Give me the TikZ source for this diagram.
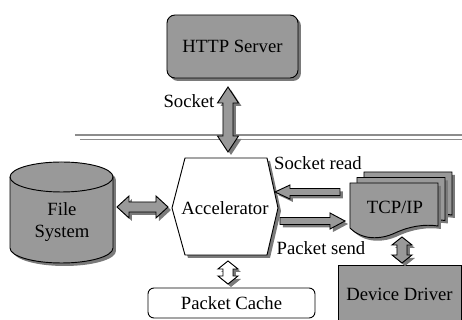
\documentclass[tikz,border=0pt]{standalone}
\usepackage{fontspec}
\setmainfont{Liberation Serif}
\usetikzlibrary{calc,shadows}

\definecolor{boxgray}{HTML}{999999}
\definecolor{shadegray}{HTML}{7A7A7A}
\definecolor{rulegray}{HTML}{8C8C8C}

\tikzset{
  lbl/.style={font=\fontsize{14}{16.5}\selectfont, inner sep=0pt, align=center},
  grayfill/.style={fill=boxgray, draw=black, line width=0.7pt},
  whitefill/.style={fill=white, draw=black, line width=0.7pt},
  shadowcopy/.style={fill=shadegray, draw=none, transform canvas={shift={(2.25pt,-2.25pt)}}},
  boxshadow/.style={drop shadow={shadow xshift=2.25pt, shadow yshift=-2.25pt, fill=shadegray, opacity=1}},
  rule/.style={draw=rulegray, line width=1.4pt},
}

% vertical block arrow with two heads: style, top, bottom, head half-width, shaft half-width, head length
\newcommand\vdblpath[6]{%
  \path[#1] (#2) -- ($(#2)+(#4,#6)$) -- ($(#2)+(#5,#6)$) -- ($(#3)+(#5,-#6)$)
    -- ($(#3)+(#4,-#6)$) -- (#3) -- ($(#3)+(-#4,-#6)$) -- ($(#3)+(-#5,-#6)$)
    -- ($(#2)+(-#5,#6)$) -- ($(#2)+(-#4,#6)$) -- cycle;}
\newcommand\vdbl[6]{\vdblpath{shadowcopy}{#2}{#3}{#4}{#5}{#6}\vdblpath{#1}{#2}{#3}{#4}{#5}{#6}}

% horizontal block arrow with two heads: style, left, right, head half-width, shaft half-width, head length
\newcommand\hdblpath[6]{%
  \path[#1] (#2) -- ($(#2)+(#6,-#4)$) -- ($(#2)+(#6,-#5)$) -- ($(#3)+(-#6,-#5)$)
    -- ($(#3)+(-#6,-#4)$) -- (#3) -- ($(#3)+(-#6,#4)$) -- ($(#3)+(-#6,#5)$)
    -- ($(#2)+(#6,#5)$) -- ($(#2)+(#6,#4)$) -- cycle;}
\newcommand\hdbl[6]{\hdblpath{shadowcopy}{#2}{#3}{#4}{#5}{#6}\hdblpath{#1}{#2}{#3}{#4}{#5}{#6}}

% horizontal block arrow with one head: style, tail, tip, head half-width, shaft half-width, signed head length
\newcommand\hsglpath[6]{%
  \path[#1] (#3) -- ($(#3)+(#6,-#4)$) -- ($(#3)+(#6,-#5)$) -- ($(#2)+(0,-#5)$)
    -- ($(#2)+(0,#5)$) -- ($(#3)+(#6,#5)$) -- ($(#3)+(#6,#4)$) -- cycle;}
\newcommand\hsgl[6]{\hsglpath{shadowcopy}{#2}{#3}{#4}{#5}{#6}\hsglpath{#1}{#2}{#3}{#4}{#5}{#6}}

% one page of the TCP/IP stack: style, x offset, y offset
\newcommand\docpage[3]{%
  \path[#1, shift={(#2,#3)}] (350,183) -- (438,183) -- (438,226)
    .. controls (425,224) and (410,226) .. (395,233)
    .. controls (380,240) and (362,240) .. (350,228) -- cycle;}

\begin{document}
\begin{tikzpicture}[x=0.75pt, y=-0.75pt]
\useasboundingbox (0,0) rectangle (462,320);

% separator between user and kernel space
\draw[rule] (75,135) -- (462,135);
\draw[rule] (80,139.5) -- (462,139.5);

% HTTP server
\node[lbl, grayfill, boxshadow, rounded corners=6pt,
      minimum width=98.25pt, minimum height=47.25pt] (http) at (232.5,46.5) {HTTP Server};

% file system cylinder
\path[shadowcopy] (10,177) -- (10,248) arc (180:0:51.5 and 15) -- (113,177) arc (0:-180:51.5 and 15) -- cycle;
\path[grayfill] (10,177) -- (10,248) arc (180:0:51.5 and 15) -- (113,177) arc (0:-180:51.5 and 15) -- cycle;
\draw[line width=0.7pt] (10,177) arc (180:0:51.5 and 15);
\node[lbl] (fs) at (62,222) {File\\System};

% accelerator hexagon
\path[shadowcopy] (185,158) -- (267,158) -- (278,208) -- (267,255) -- (185,255) -- (172,208) -- cycle;
\path[whitefill] (185,158) -- (267,158) -- (278,208) -- (267,255) -- (185,255) -- (172,208) -- cycle;
\node[lbl] (acc) at (225,208) {Accelerator};

% TCP/IP page stack
\docpage{shadowcopy}{14}{-11}
\docpage{grayfill}{14}{-11}
\docpage{shadowcopy}{7}{-5.5}
\docpage{grayfill}{7}{-5.5}
\docpage{shadowcopy}{0}{0}
\docpage{grayfill}{0}{0}
\node[lbl] (tcp) at (395,207) {TCP/IP};

% packet cache and device driver
\node[lbl, whitefill, rounded corners=4.5pt,
      minimum width=125.25pt, minimum height=22.5pt] (cache) at (231.5,303) {Packet Cache};
\node[lbl, grayfill, minimum width=92.25pt, minimum height=43.5pt] (dd) at (399.5,294) {Device Driver};

% arrow end points
\coordinate (sockA) at (228,87);
\coordinate (sockB) at (228,152);
\coordinate (fsA) at (117,207);
\coordinate (fsB) at (168,207);
\coordinate (cacheA) at (228,261);
\coordinate (cacheB) at (228,284);
\coordinate (ddA) at (402,237);
\coordinate (ddB) at (402,263);
\coordinate (readTail) at (340,192);
\coordinate (readTip) at (275,192);
\coordinate (sendTail) at (280,221);
\coordinate (sendTip) at (345,221);

% block arrows
\vdbl{grayfill}{sockA}{sockB}{10.5}{5}{16}
\hdbl{grayfill}{fsA}{fsB}{11}{5}{12}
\vdbl{whitefill}{cacheA}{cacheB}{10}{5}{8}
\vdbl{grayfill}{ddA}{ddB}{10}{5}{8}
\hsgl{grayfill}{readTail}{readTip}{7}{3.5}{15}
\hsgl{grayfill}{sendTail}{sendTip}{8}{3.5}{-15}

% arrow labels
\node[lbl] (sockLbl) at (189,101) {Socket};
\node[lbl] (readLbl) at (318,163) {Socket read};
\node[lbl] (sendLbl) at (321,248) {Packet send};
\end{tikzpicture}
\end{document}
